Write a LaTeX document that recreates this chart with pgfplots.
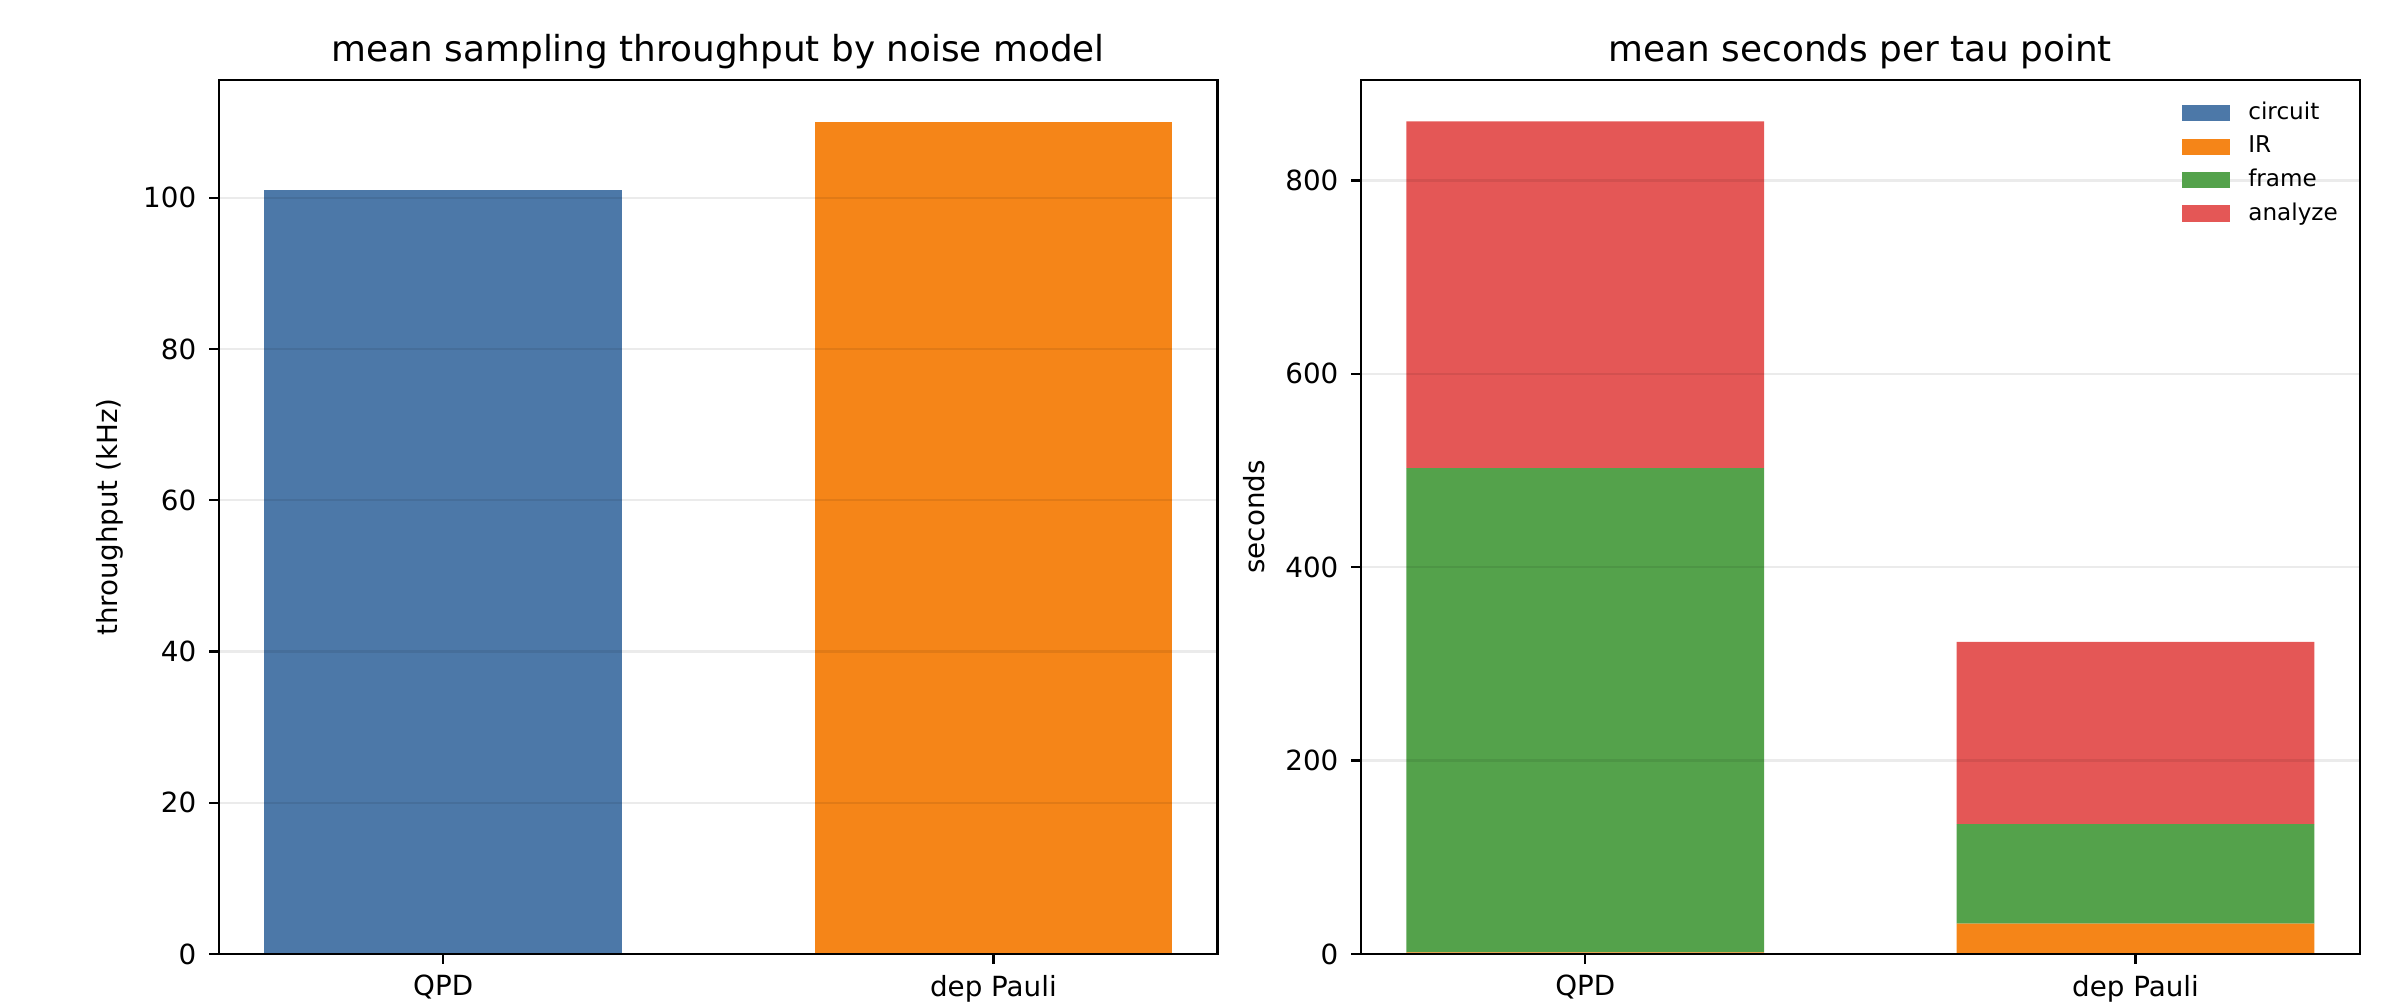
\documentclass[border=0pt]{standalone}
\usepackage{fontspec}
\setmainfont{DejaVu Sans}
\usepackage{pgfplots}
\pgfplotsset{compat=1.18}
\definecolor{cblue}{HTML}{4C78A8}
\definecolor{corange}{HTML}{F58518}
\definecolor{cgreen}{HTML}{54A24B}
\definecolor{cred}{HTML}{E45756}
\pgfplotsset{
  common/.style={
    scale only axis, width=359.8pt, height=314.9pt,
    axis on top,
    xmin=-0.4075, xmax=1.4075, ymin=0,
    xtick={0,1}, xticklabels={QPD, dep Pauli},
    tick pos=left, tick align=outside,
    major tick length=3.5pt,
    every tick/.style={black, line width=0.8pt},
    axis line style={black, line width=0.8pt},
    ymajorgrids, grid style={black, opacity=0.08, line width=0.8pt},
    tick label style={font=\fontsize{10}{12}\selectfont},
    yticklabel style={inner xsep=4.5pt},
    xticklabel style={inner ysep=4pt},
    /pgf/number format/assume math mode=true,
    every axis title/.style={font=\fontsize{12.9}{15}\selectfont, at={(0.5,1)}, anchor=base, yshift=6.5pt},
    label style={font=\fontsize{10}{12}\selectfont},
  },
  mylegend/.style={legend image code/.code={\fill[##1] (0pt,-2.9pt) rectangle (17.3pt,2.9pt); \path (22pt,0pt);}},
}
\begin{document}
\begin{tikzpicture}
\path[use as bounding box] (0,0) rectangle (864pt,361.7pt);
\begin{axis}[common, at={(78.9pt,18pt)}, anchor=south west,
  ymax=115.6, ytick={0,20,...,100},
  title={mean sampling throughput by noise model},
  ylabel={throughput (kHz)},
  ylabel style={at={(axis description cs:-0.109,0.5)}, anchor=center}]
\addplot[ybar, bar width=0.65, bar shift=0pt, fill=cblue, draw=none] coordinates {(0,101.1)};
\addplot[ybar, bar width=0.65, bar shift=0pt, fill=corange, draw=none] coordinates {(1,110.1)};
\end{axis}
\begin{axis}[common, at={(490.4pt,18pt)}, anchor=south west,
  ybar stacked, bar width=0.65,
  ymax=904, ytick={0,200,...,800},
  title={mean seconds per tau point},
  ylabel={seconds},
  ylabel style={at={(axis description cs:-0.107,0.5)}, anchor=center},
  legend cell align=left,
  legend style={at={(1,1)}, anchor=north east, xshift=-2.7pt, yshift=-3.9pt, draw=none, fill=none,
    font=\fontsize{8.33}{10}\selectfont, row sep=0.3pt}]
\addplot[fill=cblue, draw=none, mylegend] coordinates {(0,0.5) (1,0.3)};
\addplot[fill=corange, draw=none, mylegend] coordinates {(0,1.0) (1,31)};
\addplot[fill=cgreen, draw=none, mylegend] coordinates {(0,501) (1,103)};
\addplot[fill=cred, draw=none, mylegend] coordinates {(0,358.5) (1,188.5)};
\legend{circuit, IR, frame, analyze}
\end{axis}
\end{tikzpicture}
\end{document}
